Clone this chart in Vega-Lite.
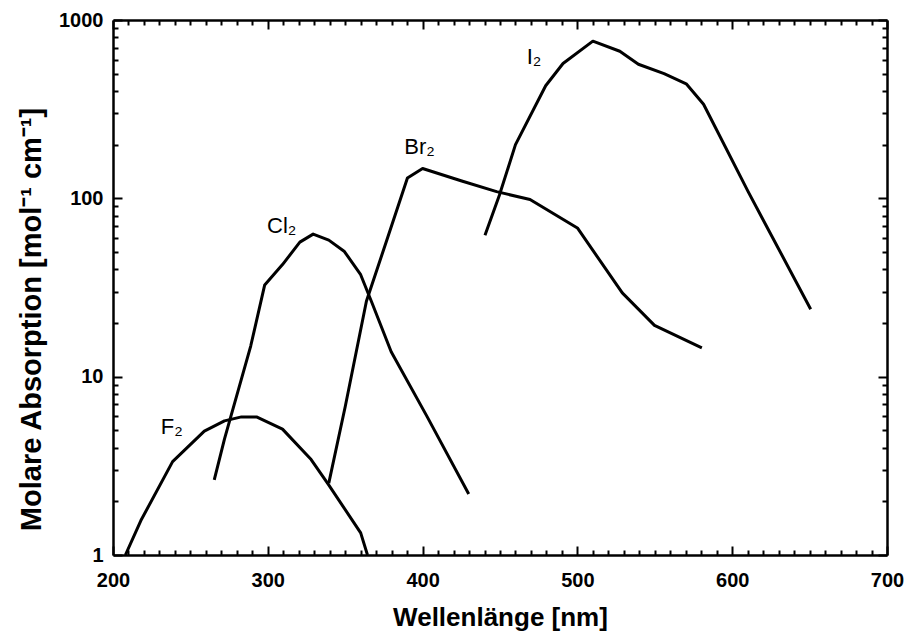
{
  "$schema": "https://vega.github.io/schema/vega-lite/v6.json",
  "width": 774,
  "height": 535,
  "autosize": {"type": "none"},
  "padding": {"left": 113, "top": 20, "right": 19, "bottom": 82},
  "background": "white",
  "config": {
    "view": {"stroke": null},
    "font": "Liberation Sans",
    "axis": {"grid": false, "domainColor": "black", "domainWidth": 2.5, "tickColor": "black", "tickWidth": 2, "labelColor": "black", "titleColor": "black", "labelFont": "Liberation Sans", "titleFont": "Liberation Sans"}
  },
  "datasets": {
    "curves": [
      {"series": "F2", "wl": 208, "abs": 1.0},
      {"series": "F2", "wl": 218, "abs": 1.56},
      {"series": "F2", "wl": 238.5, "abs": 3.34},
      {"series": "F2", "wl": 259, "abs": 4.95},
      {"series": "F2", "wl": 272, "abs": 5.65},
      {"series": "F2", "wl": 283, "abs": 5.95},
      {"series": "F2", "wl": 292.7, "abs": 5.95},
      {"series": "F2", "wl": 309.5, "abs": 5.08},
      {"series": "F2", "wl": 328, "abs": 3.43},
      {"series": "F2", "wl": 339, "abs": 2.5},
      {"series": "F2", "wl": 360, "abs": 1.33},
      {"series": "F2", "wl": 364.4, "abs": 1.0},
      {"series": "Cl2", "wl": 265.4, "abs": 2.64},
      {"series": "Cl2", "wl": 272, "abs": 4.46},
      {"series": "Cl2", "wl": 289, "abs": 14.9},
      {"series": "Cl2", "wl": 298, "abs": 32.7},
      {"series": "Cl2", "wl": 309.5, "abs": 42.5},
      {"series": "Cl2", "wl": 320.7, "abs": 56.8},
      {"series": "Cl2", "wl": 329.3, "abs": 63},
      {"series": "Cl2", "wl": 339.4, "abs": 58.3},
      {"series": "Cl2", "wl": 349.5, "abs": 50.3},
      {"series": "Cl2", "wl": 360, "abs": 37.3},
      {"series": "Cl2", "wl": 367.4, "abs": 25.8},
      {"series": "Cl2", "wl": 379.7, "abs": 13.8},
      {"series": "Cl2", "wl": 403, "abs": 5.95},
      {"series": "Cl2", "wl": 429.8, "abs": 2.2},
      {"series": "Br2", "wl": 339.4, "abs": 2.53},
      {"series": "Br2", "wl": 350, "abs": 6.78},
      {"series": "Br2", "wl": 363.7, "abs": 26.5},
      {"series": "Br2", "wl": 376.8, "abs": 58},
      {"series": "Br2", "wl": 390.2, "abs": 130},
      {"series": "Br2", "wl": 400, "abs": 147},
      {"series": "Br2", "wl": 425.3, "abs": 125},
      {"series": "Br2", "wl": 447.8, "abs": 109},
      {"series": "Br2", "wl": 469.4, "abs": 98.5},
      {"series": "Br2", "wl": 500, "abs": 68.2},
      {"series": "Br2", "wl": 529, "abs": 29.5},
      {"series": "Br2", "wl": 549.8, "abs": 19.4},
      {"series": "Br2", "wl": 580.4, "abs": 14.5},
      {"series": "I2", "wl": 440.3, "abs": 62},
      {"series": "I2", "wl": 449.6, "abs": 104},
      {"series": "I2", "wl": 460, "abs": 200},
      {"series": "I2", "wl": 479.5, "abs": 428},
      {"series": "I2", "wl": 490.7, "abs": 570},
      {"series": "I2", "wl": 510, "abs": 761},
      {"series": "I2", "wl": 527.4, "abs": 668},
      {"series": "I2", "wl": 539.4, "abs": 565},
      {"series": "I2", "wl": 556, "abs": 500},
      {"series": "I2", "wl": 570.3, "abs": 439},
      {"series": "I2", "wl": 581.5, "abs": 337},
      {"series": "I2", "wl": 610.3, "abs": 109},
      {"series": "I2", "wl": 650.7, "abs": 23.9}
    ],
    "labels": [
      {"name": "F₂", "wl": 238, "abs": 5.2},
      {"name": "Cl₂", "wl": 309, "abs": 70},
      {"name": "Br₂", "wl": 398, "abs": 195},
      {"name": "I₂", "wl": 472, "abs": 620}
    ]
  },
  "layer": [
    {
      "data": {"name": "curves"},
      "mark": {"type": "line", "color": "black", "strokeWidth": 3, "strokeJoin": "round", "clip": true},
      "encoding": {
        "x": {"field": "wl", "type": "quantitative",
          "scale": {"domain": [200, 700], "nice": false, "zero": false},
          "axis": {"orient": "bottom", "title": "Wellenlänge [nm]", "titleFontSize": 26, "titleFontWeight": "bold",
            "titleX": 387, "titleY": 70, "titleBaseline": "alphabetic", "titleAlign": "center", "titleAnchor": null,
            "values": [200,210,220,230,240,250,260,270,280,290,300,310,320,330,340,350,360,370,380,390,400,410,420,430,440,450,460,470,480,490,500,510,520,530,540,550,560,570,580,590,600,610,620,630,640,650,660,670,680,690,700],
            "labelExpr": "datum.value % 100 === 0 ? datum.value : ''",
            "labelFontSize": 20, "labelFontWeight": "bold", "labelPadding": 24, "labelFlush": false,
            "tickSize": {"condition": {"test": "datum.value % 100 === 0", "value": -9}, "value": -5}}},
        "y": {"field": "abs", "type": "quantitative",
          "scale": {"type": "log", "domain": [1, 1000], "nice": false},
          "axis": {"orient": "left", "title": "Molare Absorption [mol⁻¹ cm⁻¹]", "titleFontSize": 29, "titleFontWeight": "bold",
            "titleX": -82, "titleY": 299, "titleAngle": -90, "titleBaseline": "middle", "titleAlign": "center", "titleAnchor": null,
            "values": [1,2,3,4,5,6,7,8,9,10,20,30,40,50,60,70,80,90,100,200,300,400,500,600,700,800,900,1000],
            "labelExpr": "indexof([1,10,100,1000], datum.value) >= 0 ? datum.value : ''",
            "labelFontSize": 20, "labelFontWeight": "bold", "labelPadding": 19, "labelFlush": false,
            "tickSize": {"condition": {"test": "indexof([1,10,100,1000], datum.value) >= 0", "value": -9}, "value": -5}}},
        "detail": {"field": "series"}
      }
    },
    {
      "data": {"name": "labels"},
      "mark": {"type": "text", "fontSize": 22, "color": "black", "font": "Liberation Sans"},
      "encoding": {
        "x": {"field": "wl", "type": "quantitative",
          "scale": {"domain": [200, 700], "nice": false, "zero": false},
          "axis": {"orient": "top", "title": null, "labels": false,
            "values": [200,210,220,230,240,250,260,270,280,290,300,310,320,330,340,350,360,370,380,390,400,410,420,430,440,450,460,470,480,490,500,510,520,530,540,550,560,570,580,590,600,610,620,630,640,650,660,670,680,690,700],
            "tickSize": {"condition": {"test": "datum.value % 100 === 0", "value": -9}, "value": -5}}},
        "y": {"field": "abs", "type": "quantitative",
          "scale": {"type": "log", "domain": [1, 1000], "nice": false},
          "axis": {"orient": "right", "title": null, "labels": false,
            "values": [1,2,3,4,5,6,7,8,9,10,20,30,40,50,60,70,80,90,100,200,300,400,500,600,700,800,900,1000],
            "tickSize": {"condition": {"test": "indexof([1,10,100,1000], datum.value) >= 0", "value": -9}, "value": -5}}},
        "text": {"field": "name"}
      }
    }
  ],
  "resolve": {"axis": {"x": "independent", "y": "independent"}}
}
